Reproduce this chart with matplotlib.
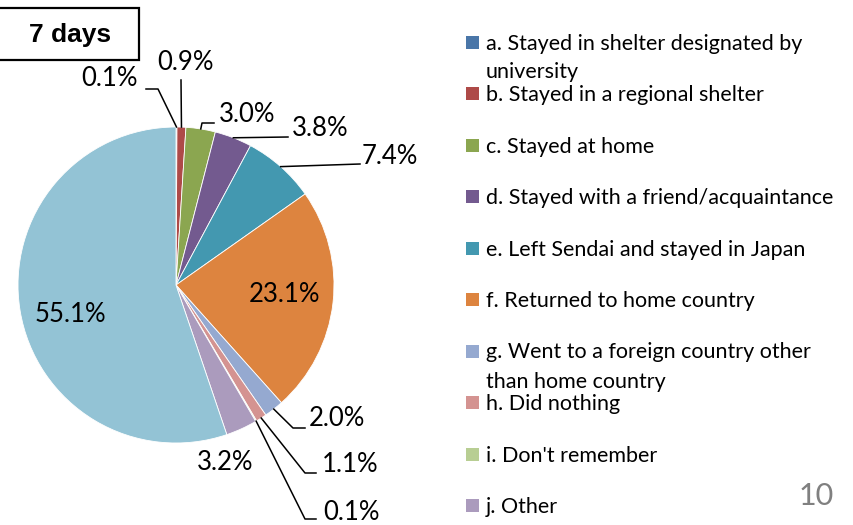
import matplotlib
matplotlib.use('Agg')
import matplotlib.pyplot as plt
from matplotlib.patches import Rectangle
import numpy as np

# ---------------- data ----------------
categories = [
    "a. Stayed in shelter designated by\nuniversity",
    "b. Stayed in a regional shelter",
    "c. Stayed at home",
    "d. Stayed with a friend/acquaintance",
    "e. Left Sendai and stayed in Japan",
    "f. Returned to home country",
    "g. Went to a foreign country other\nthan home country",
    "h. Did nothing",
    "i. Don't remember",
    "j. Other",
]
values = [0.1, 0.9, 3.0, 3.8, 7.4, 23.1, 2.0, 1.1, 0.1, 3.2]
rest_value = 55.1  # slice without legend entry
colors = ["#4A76A8", "#AE4A48", "#8BA650", "#735A8F", "#4398B0",
          "#DD843F", "#95A9D0", "#D49391", "#B8CE93", "#AB9BBD"]
rest_color = "#93C3D5"
title = "7 days"
page_number = "10"

# ---------------- layout ----------------
W, H = 854, 525
fig = plt.figure(figsize=(W / 100, H / 100), dpi=100)
cx, cy, R = 176, 285, 158
ax = fig.add_axes([(cx - R) / W, (H - cy - R) / H, 2 * R / W, 2 * R / H])

wedges, _ = ax.pie(values + [rest_value], colors=colors + [rest_color],
                   startangle=90, counterclock=False, radius=1,
                   wedgeprops=dict(linewidth=0.6, edgecolor='white'))
ax.set_xlim(-1, 1)
ax.set_ylim(-1, 1)
ax.axis('off')

FONT = 'Lato'


def px(x, y):
    return ((x - cx) / R, (cy - y) / R)


def edge(i):
    w = wedges[i]
    th = np.deg2rad((w.theta1 + w.theta2) / 2)
    return (np.cos(th), np.sin(th))


def label(i, x, y, **kw):
    v = (values + [rest_value])[i]
    ax.text(*px(x, y), f"{v:.1f}%", ha='center', va='center',
            fontsize=18.5, family=FONT, color='black', clip_on=False, **kw)


def leader(i, pts):
    sx, sy = edge(i)
    xs = [sx] + [px(*p)[0] for p in pts]
    ys = [sy] + [px(*p)[1] for p in pts]
    ax.plot(xs, ys, color='black', lw=1.1, clip_on=False)


# labels & leader lines
label(0, 110, 79)
leader(0, [(158, 89), (146, 89)])
label(1, 185, 62)
leader(1, [(181, 80)])
label(2, 247, 114)
leader(2, [(202, 123), (214, 123)])
label(3, 320, 128)
leader(3, [(288, 137)])
label(4, 390, 157)
leader(4, [(360, 164)])
label(5, 285, 295)
label(6, 337, 418)
leader(6, [(293, 428), (305, 428)])
label(7, 350, 464)
leader(7, [(305, 473), (316, 473)])
label(8, 352, 512)
leader(8, [(305, 519), (316, 519)])
label(9, 225, 463)
label(10, 70, 315)

# legend (manual)
for i, (lab, col) in enumerate(zip(categories, colors)):
    yc = 42 + i * 51.5
    fig.patches.append(Rectangle((466 / W, 1 - (yc + 6.5) / H), 13 / W, 13 / H,
                                 transform=fig.transFigure, facecolor=col,
                                 edgecolor='none'))
    for k, line in enumerate(lab.split('\n')):
        fig.text(486 / W, 1 - (yc + 7.5 + 29 * k) / H, line, ha='left',
                 va='baseline', fontsize=15.5, family=FONT, color='black')

# title box
fig.patches.append(Rectangle((-2 / W, 1 - 60 / H), 141 / W, 52 / H,
                             transform=fig.transFigure, fill=False,
                             edgecolor='black', lw=1.6))
fig.text(70 / W, 1 - 35 / H, title, ha='center', va='center', fontsize=19,
         weight='bold', family='Liberation Sans')

# page number
fig.text(816 / W, 1 - 496 / H, page_number, ha='center', va='center',
         fontsize=22, family=FONT, color='#808080')

fig.savefig('out.png', dpi=100)
